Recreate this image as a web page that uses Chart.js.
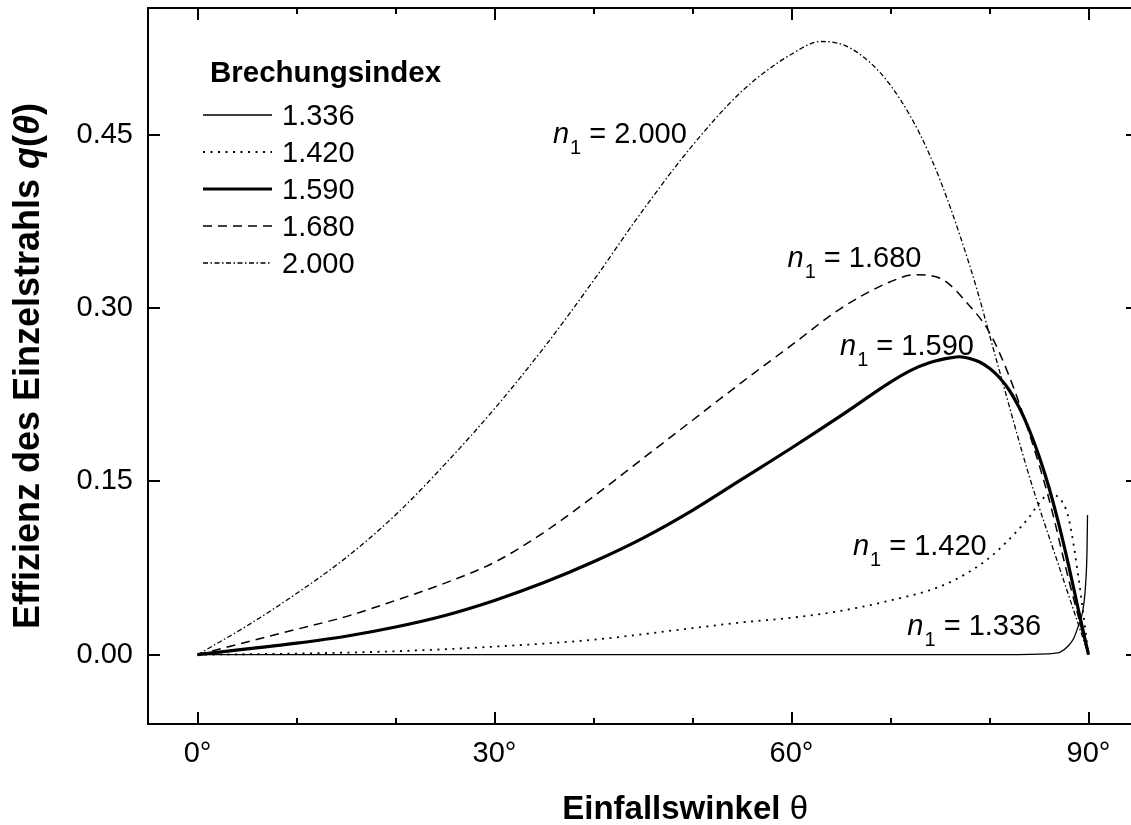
<!DOCTYPE html>
<html>
<head>
<meta charset="utf-8">
<script src="https://cdn.jsdelivr.net/npm/chart.js@4.4.1/dist/chart.umd.min.js"></script>
<style>
  html, body { margin: 0; padding: 0; background: #fff; overflow: hidden; }
  #wrap { width: 1131px; height: 825px; overflow: hidden; }
</style>
</head>
<body>
<div id="wrap"><canvas id="chart" width="1160" height="825"></canvas></div>
<script>
/* Einzelstrahl-Effizienz q(theta) fuer verschiedene Brechungsindizes */
const FONT = "'Liberation Sans', Arial, Helvetica, sans-serif";

// tick positions
const xMajor = [0, 30, 60, 90];
const xMinor = [10, 20, 40, 50, 70, 80];
const yMajor = [0, 0.15, 0.30, 0.45];

// n1 = 1.336
const ang1336 = [0, 20, 40, 60, 80, 85, 86.5, 87.1, 88, 88.5, 88.9, 89.4, 89.7, 89.85, 89.9];
const q1336 = [0, 0, 0, 0, 0, 0.0005, 0.0012, 0.002, 0.008, 0.014, 0.023, 0.037, 0.06, 0.09, 0.121];

// n1 = 1.420
const ang1420 = [0, 10, 20, 30, 40, 50, 55, 60, 65, 70, 75, 78, 80, 82, 84, 85, 86, 87, 88, 89, 90];
const q1420 = [0, 0.001, 0.003, 0.007, 0.013, 0.023, 0.028, 0.032, 0.038, 0.047, 0.059, 0.072, 0.084, 0.100, 0.119, 0.131, 0.139, 0.136, 0.118, 0.066, 0];

// n1 = 1.590
const ang1590 = [0, 5, 10, 15, 20, 25, 30, 35, 40, 45, 50, 55, 60, 65, 70, 72, 74, 76, 77, 78, 79, 80, 81, 82, 83, 84, 85, 86, 87, 88, 89, 90];
const q1590 = [0, 0.005, 0.010, 0.016, 0.024, 0.034, 0.047, 0.0625, 0.0805, 0.101, 0.125, 0.152, 0.179, 0.207, 0.236, 0.246, 0.253, 0.257, 0.258, 0.2565, 0.2535, 0.248, 0.240, 0.229, 0.214, 0.195, 0.172, 0.145, 0.113, 0.077, 0.038, 0];

// n1 = 1.680
const ang1680 = [0, 5, 10, 15, 20, 25, 30, 35, 40, 45, 50, 55, 60, 65, 70, 72.5, 75, 78, 80, 82, 84, 86, 88, 90];
const q1680 = [0, 0.011, 0.022, 0.033, 0.047, 0.062, 0.080, 0.106, 0.137, 0.170, 0.203, 0.236, 0.268, 0.300, 0.323, 0.329, 0.326, 0.302, 0.279, 0.241, 0.192, 0.135, 0.065, 0];

// n1 = 2.000
const ang2000 = [0, 5, 10, 15, 20, 25, 30, 35, 40, 45, 50, 55, 60, 63, 66, 70, 74, 78, 81, 84, 87, 90];
const q2000 = [0, 0.025, 0.053, 0.084, 0.121, 0.165, 0.213, 0.266, 0.324, 0.385, 0.441, 0.488, 0.520, 0.531, 0.525, 0.493, 0.432, 0.337, 0.246, 0.155, 0.077, 0];

// label anchors for the curve annotations (angle, q)
const labelNames = ['2.000', '1.680', '1.590', '1.420', '1.336'];
const labelAng = [35.9, 59.6, 64.9, 66.2, 71.7];
const labelQ = [0.443, 0.3355, 0.2594, 0.0863, 0.0170];

function pts(a, q) {
  return a.map(function (v, i) { return { x: v, y: q[i] }; });
}

function series(label, a, q, width, dash) {
  return {
    label: label,
    data: pts(a, q),
    borderColor: '#000',
    borderWidth: width,
    borderDash: dash,
    borderCapStyle: 'butt',
    pointRadius: 0,
    fill: false,
    cubicInterpolationMode: 'monotone'
  };
}

const datasets = [
  series('1.336', ang1336, q1336, 1.3, []),
  series('1.420', ang1420, q1420, 1.8, [2, 5.5]),
  series('1.590', ang1590, q1590, 3.2, []),
  series('1.680', ang1680, q1680, 1.5, [9, 6]),
  series('2.000', ang2000, q2000, 1.3, [5, 2.5, 1.5, 2.5])
];

const decor = {
  id: 'decor',
  afterDatasetsDraw: function (chart) {
    const ctx = chart.ctx, ca = chart.chartArea;
    const xs = chart.scales.x, ys = chart.scales.y;
    ctx.save();
    ctx.strokeStyle = '#000';
    ctx.fillStyle = '#000';
    ctx.lineWidth = 2;
    ctx.setLineDash([]);
    ctx.strokeRect(ca.left, ca.top, ca.right - ca.left, ca.bottom - ca.top);

    // inward ticks
    ctx.beginPath();
    xMajor.concat(xMinor).forEach(function (v) {
      const len = xMajor.indexOf(v) >= 0 ? 12 : 6;
      const px = Math.round(xs.getPixelForValue(v));
      ctx.moveTo(px, ca.bottom); ctx.lineTo(px, ca.bottom - len);
      ctx.moveTo(px, ca.top); ctx.lineTo(px, ca.top + len);
    });
    yMajor.forEach(function (v) {
      const py = Math.round(ys.getPixelForValue(v));
      ctx.moveTo(ca.left, py); ctx.lineTo(ca.left + 12, py);
      ctx.moveTo(ca.right, py); ctx.lineTo(ca.right - 12, py);
    });
    ctx.stroke();

    // legend
    ctx.textAlign = 'left';
    ctx.textBaseline = 'alphabetic';
    ctx.font = 'bold 29.5px ' + FONT;
    ctx.fillText('Brechungsindex', 210, 82);
    ctx.font = '29px ' + FONT;
    chart.data.datasets.forEach(function (ds, i) {
      const ly = 115 + i * 37;
      ctx.lineWidth = ds.borderWidth;
      ctx.setLineDash(ds.borderDash);
      ctx.beginPath();
      ctx.moveTo(203, ly); ctx.lineTo(272, ly);
      ctx.stroke();
      ctx.fillText(ds.label, 282, ly + 10);
    });
    ctx.setLineDash([]);

    // curve annotations
    labelNames.forEach(function (name, i) {
      let x = xs.getPixelForValue(labelAng[i]);
      const y = ys.getPixelForValue(labelQ[i]);
      ctx.font = 'italic 29px ' + FONT;
      ctx.fillText('n', x, y);
      x += ctx.measureText('n').width + 1;
      ctx.font = '20px ' + FONT;
      ctx.fillText('1', x, y + 11);
      x += ctx.measureText('1').width;
      ctx.font = '29px ' + FONT;
      ctx.fillText(' = ' + name, x, y);
    });

    // x title, right end near 808
    ctx.font = 'bold 33px ' + FONT;
    const w1 = ctx.measureText('Einfallswinkel ').width;
    ctx.font = '33px ' + FONT;
    const w2 = ctx.measureText('\u03b8').width;
    let tx = 808 - w1 - w2;
    ctx.font = 'bold 33px ' + FONT;
    ctx.fillText('Einfallswinkel ', tx, 819);
    ctx.font = '33px ' + FONT;
    ctx.fillText('\u03b8', tx + w1, 819);

    // y title, centred on the plot height
    const parts = [
      ['bold', 'Effizienz des Einzelstrahls '],
      ['italic bold', 'q'],
      ['bold', '('],
      ['italic bold', '\u03b8'],
      ['bold', ')']
    ];
    let total = 0;
    parts.forEach(function (p) {
      ctx.font = p[0] + ' 36px ' + FONT;
      total += ctx.measureText(p[1]).width;
    });
    ctx.translate(39, (ca.top + ca.bottom) / 2 + total / 2);
    ctx.rotate(-Math.PI / 2);
    let ty = 0;
    parts.forEach(function (p) {
      ctx.font = p[0] + ' 36px ' + FONT;
      ctx.fillText(p[1], ty, 0);
      ty += ctx.measureText(p[1]).width;
    });
    ctx.restore();
  }
};

new Chart(document.getElementById('chart'), {
  type: 'line',
  data: { datasets: datasets },
  options: {
    responsive: false,
    animation: false,
    events: [],
    layout: { padding: { top: 8, right: 22, left: 0, bottom: 0 } },
    plugins: { legend: { display: false }, tooltip: { enabled: false } },
    scales: {
      x: {
        type: 'linear',
        min: -5,
        max: 95,
        grid: { display: false },
        border: { display: false },
        afterBuildTicks: function (s) { s.ticks = xMajor.map(function (v) { return { value: v }; }); },
        afterFit: function (s) { s.height = 101; s.paddingLeft = 0; s.paddingRight = 0; },
        ticks: {
          autoSkip: false,
          maxRotation: 0,
          padding: 5,
          color: '#000',
          font: { family: FONT, size: 29 },
          callback: function (v) { return v + '\u00b0'; }
        }
      },
      y: {
        type: 'linear',
        min: -0.06,
        max: 0.56,
        grid: { display: false },
        border: { display: false },
        afterBuildTicks: function (s) { s.ticks = yMajor.map(function (v) { return { value: v }; }); },
        afterFit: function (s) { s.width = 148; s.paddingTop = 0; s.paddingBottom = 0; },
        ticks: {
          padding: 7,
          color: '#000',
          font: { family: FONT, size: 29 },
          callback: function (v) { return v.toFixed(2); }
        }
      }
    }
  },
  plugins: [decor]
});
</script>
</body>
</html>
